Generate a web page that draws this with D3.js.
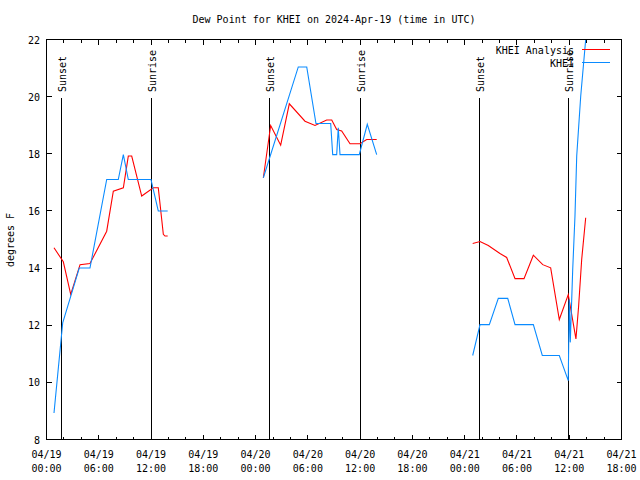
<!DOCTYPE html>
<html>
<head>
<meta charset="utf-8">
<script src="https://cdn.jsdelivr.net/npm/d3@7"></script>
<style>
  html, body { margin: 0; padding: 0; background: #fff; }
  svg { display: block; }
  text { font-family: "DejaVu Sans Mono", "Liberation Mono", monospace; font-size: 10px; fill: #000; }
</style>
</head>
<body>
<svg id="chart" width="640" height="480"></svg>
<script>
// ---------------- DATA (hours since 2024-04-19 00:00 UTC) ----------------
const titleText = "Dew Point for KHEI on 2024-Apr-19 (time in UTC)";
const yLabel = "degrees F";
const seriesNames = ["KHEI Analysis", "KHEI"];

const xDomainHours = [0, 66];
const xMajorTickHours = [0, 6, 12, 18, 24, 30, 36, 42, 48, 54, 60, 66];
const yTicks = [8, 10, 12, 14, 16, 18, 20, 22];
const yDomain = [8, 22];

// Sunset / sunrise events (hours)
const eventHours = [1.7, 12.05, 25.65, 36.0, 49.73, 59.95];
const eventLabels = ["Sunset", "Sunrise", "Sunset", "Sunrise", "Sunset", "Sunrise"];

// KHEI Analysis (red) - three segments
const anaHours1 = [0.86, 1.93, 2.78, 3.85, 4.99, 6.91, 7.67, 8.82, 9.39, 9.78, 10.93, 12.26, 12.83, 13.41, 13.6, 13.91];
const anaDew1   = [14.71, 14.22, 13.08, 14.12, 14.16, 15.29, 16.69, 16.81, 17.92, 17.92, 16.52, 16.81, 16.81, 15.18, 15.12, 15.12];
const anaHours2 = [24.89, 25.73, 26.88, 27.87, 29.67, 30.82, 32.16, 32.74, 33.31, 33.88, 34.84, 35.98, 36.75, 37.9];
const anaDew2   = [17.16, 18.99, 18.3, 19.75, 19.14, 18.99, 19.18, 19.18, 18.85, 18.8, 18.35, 18.35, 18.5, 18.5];
const anaHours3 = [48.92, 49.76, 50.71, 52.05, 52.82, 53.78, 54.81, 55.88, 56.96, 57.87, 58.86, 59.89, 60.77, 61.08, 61.43, 61.89];
const anaDew3   = [14.86, 14.93, 14.79, 14.51, 14.37, 13.63, 13.63, 14.45, 14.12, 14.01, 12.2, 13.07, 11.52, 12.67, 14.3, 15.76];

// KHEI observations (blue) - three segments
const obsHours1 = [0.86, 1.86, 3.76, 4.99, 6.91, 8.24, 8.82, 9.39, 11.99, 12.83, 13.91];
const obsDew1   = [8.93, 12.08, 14.0, 14.0, 17.1, 17.1, 17.97, 17.1, 17.1, 16.0, 16.0];
const obsHours2 = [24.89, 28.9, 29.87, 30.93, 32.62, 32.85, 33.31, 33.49, 33.69, 35.9, 36.82, 37.9];
const obsDew2   = [17.16, 21.04, 21.04, 19.06, 19.06, 17.97, 17.97, 18.91, 17.97, 17.97, 19.03, 17.97];
const obsHours3 = [48.92, 49.76, 50.83, 51.86, 52.94, 53.78, 55.88, 56.91, 58.86, 59.89, 60.0, 60.12, 60.4, 60.66, 60.86, 61.32, 61.89, 62.15];
const obsDew3   = [10.94, 12.02, 12.02, 12.94, 12.94, 12.02, 12.02, 10.94, 10.94, 10.06, 12.9, 11.4, 13.95, 15.82, 17.92, 20.02, 22.0, 22.8];

// ---------------- CHART ----------------
const baseTime = Date.UTC(2024, 3, 19, 0, 0);
const fmtDate = d3.utcFormat("%m/%d");
const fmtTime = d3.utcFormat("%H:%M");

const L = 46.5, R = 621.5, T = 39.5, B = 439.5;
const svg = d3.select("#chart");

const x = d3.scaleLinear().domain(xDomainHours).range([L, R]);
const y = d3.scaleLinear().domain(yDomain).range([B, T]);

svg.append("defs").append("clipPath").attr("id", "plotclip")
  .append("rect").attr("x", L).attr("y", T).attr("width", R - L).attr("height", B - T);

// Title
svg.append("text").attr("x", (L + R) / 2).attr("y", 23).attr("text-anchor", "middle").text(titleText);

// Y label
svg.append("text").attr("transform", "translate(14,240) rotate(-90)")
  .attr("text-anchor", "middle").text(yLabel);

// Minor x ticks (every 2 hours)
const minorHours = d3.range(xDomainHours[0], xDomainHours[1] + 0.001, 2).filter(h => h % 6 !== 0);

const axisG = svg.append("g").attr("shape-rendering", "crispEdges").attr("stroke", "#000").attr("stroke-width", 1);
// bottom & top ticks
xMajorTickHours.forEach(h => {
  const xp = Math.round(x(h)) + 0.5 - 0.5 * 0;
  axisG.append("line").attr("x1", x(h)).attr("x2", x(h)).attr("y1", B).attr("y2", B - 5);
  axisG.append("line").attr("x1", x(h)).attr("x2", x(h)).attr("y1", T).attr("y2", T + 5);
});
minorHours.forEach(h => {
  axisG.append("line").attr("x1", x(h)).attr("x2", x(h)).attr("y1", B).attr("y2", B - 3);
  axisG.append("line").attr("x1", x(h)).attr("x2", x(h)).attr("y1", T).attr("y2", T + 3);
});
yTicks.forEach(v => {
  axisG.append("line").attr("x1", L).attr("x2", L + 5).attr("y1", y(v)).attr("y2", y(v));
  axisG.append("line").attr("x1", R).attr("x2", R - 5).attr("y1", y(v)).attr("y2", y(v));
});

// Y tick labels
svg.append("g").selectAll("text").data(yTicks).join("text")
  .attr("x", 40).attr("y", d => y(d) + 4).attr("text-anchor", "end").text(d => d);

// X tick labels (two lines)
const xl = svg.append("g").selectAll("g").data(xMajorTickHours).join("g");
xl.append("text").attr("x", d => x(d)).attr("y", 458).attr("text-anchor", "middle")
  .text(d => fmtDate(new Date(baseTime + d * 3600e3)));
xl.append("text").attr("x", d => x(d)).attr("y", 472).attr("text-anchor", "middle")
  .text(d => fmtTime(new Date(baseTime + d * 3600e3)));

// Sunrise / sunset lines
const ev = svg.append("g");
eventHours.forEach((h, i) => {
  const xp = Math.floor(x(h)) + 0.5;
  ev.append("line").attr("x1", xp).attr("x2", xp).attr("y1", 98).attr("y2", B)
    .attr("stroke", "#000").attr("stroke-width", 1).attr("shape-rendering", "crispEdges");
  ev.append("text").attr("transform", `translate(${xp + 4},92) rotate(-90)`)
    .attr("text-anchor", "start").text(eventLabels[i]);
});

// Data lines
const line = d3.line().x(d => x(d[0])).y(d => y(d[1]));
const zip = (a, b) => a.map((v, i) => [v, b[i]]);
const dataG = svg.append("g").attr("clip-path", "url(#plotclip)");
const anaSegs = [zip(anaHours1, anaDew1), zip(anaHours2, anaDew2), zip(anaHours3, anaDew3)];
const obsSegs = [zip(obsHours1, obsDew1), zip(obsHours2, obsDew2), zip(obsHours3, obsDew3)];
const colors = ["#ff0000", "#0a8bff"];

dataG.selectAll("path.ana").data(anaSegs).join("path").attr("class", "ana")
  .attr("d", line).attr("fill", "none").attr("stroke", colors[0]).attr("stroke-width", 1.1);
dataG.selectAll("path.obs").data(obsSegs).join("path").attr("class", "obs")
  .attr("d", line).attr("fill", "none").attr("stroke", colors[1]).attr("stroke-width", 1.1);

// Legend
const lg = svg.append("g");
seriesNames.forEach((name, i) => {
  const ly = 49.5 + i * 13;
  lg.append("text").attr("x", 574).attr("y", ly + 4).attr("text-anchor", "end").text(name);
  lg.append("line").attr("x1", 582).attr("x2", 610).attr("y1", ly).attr("y2", ly)
    .attr("stroke", colors[i]).attr("stroke-width", 1).attr("shape-rendering", "crispEdges");
});

// Border
svg.append("rect").attr("x", L).attr("y", T).attr("width", R - L).attr("height", B - T)
  .attr("fill", "none").attr("stroke", "#000").attr("stroke-width", 1).attr("shape-rendering", "crispEdges");
</script>
</body>
</html>
